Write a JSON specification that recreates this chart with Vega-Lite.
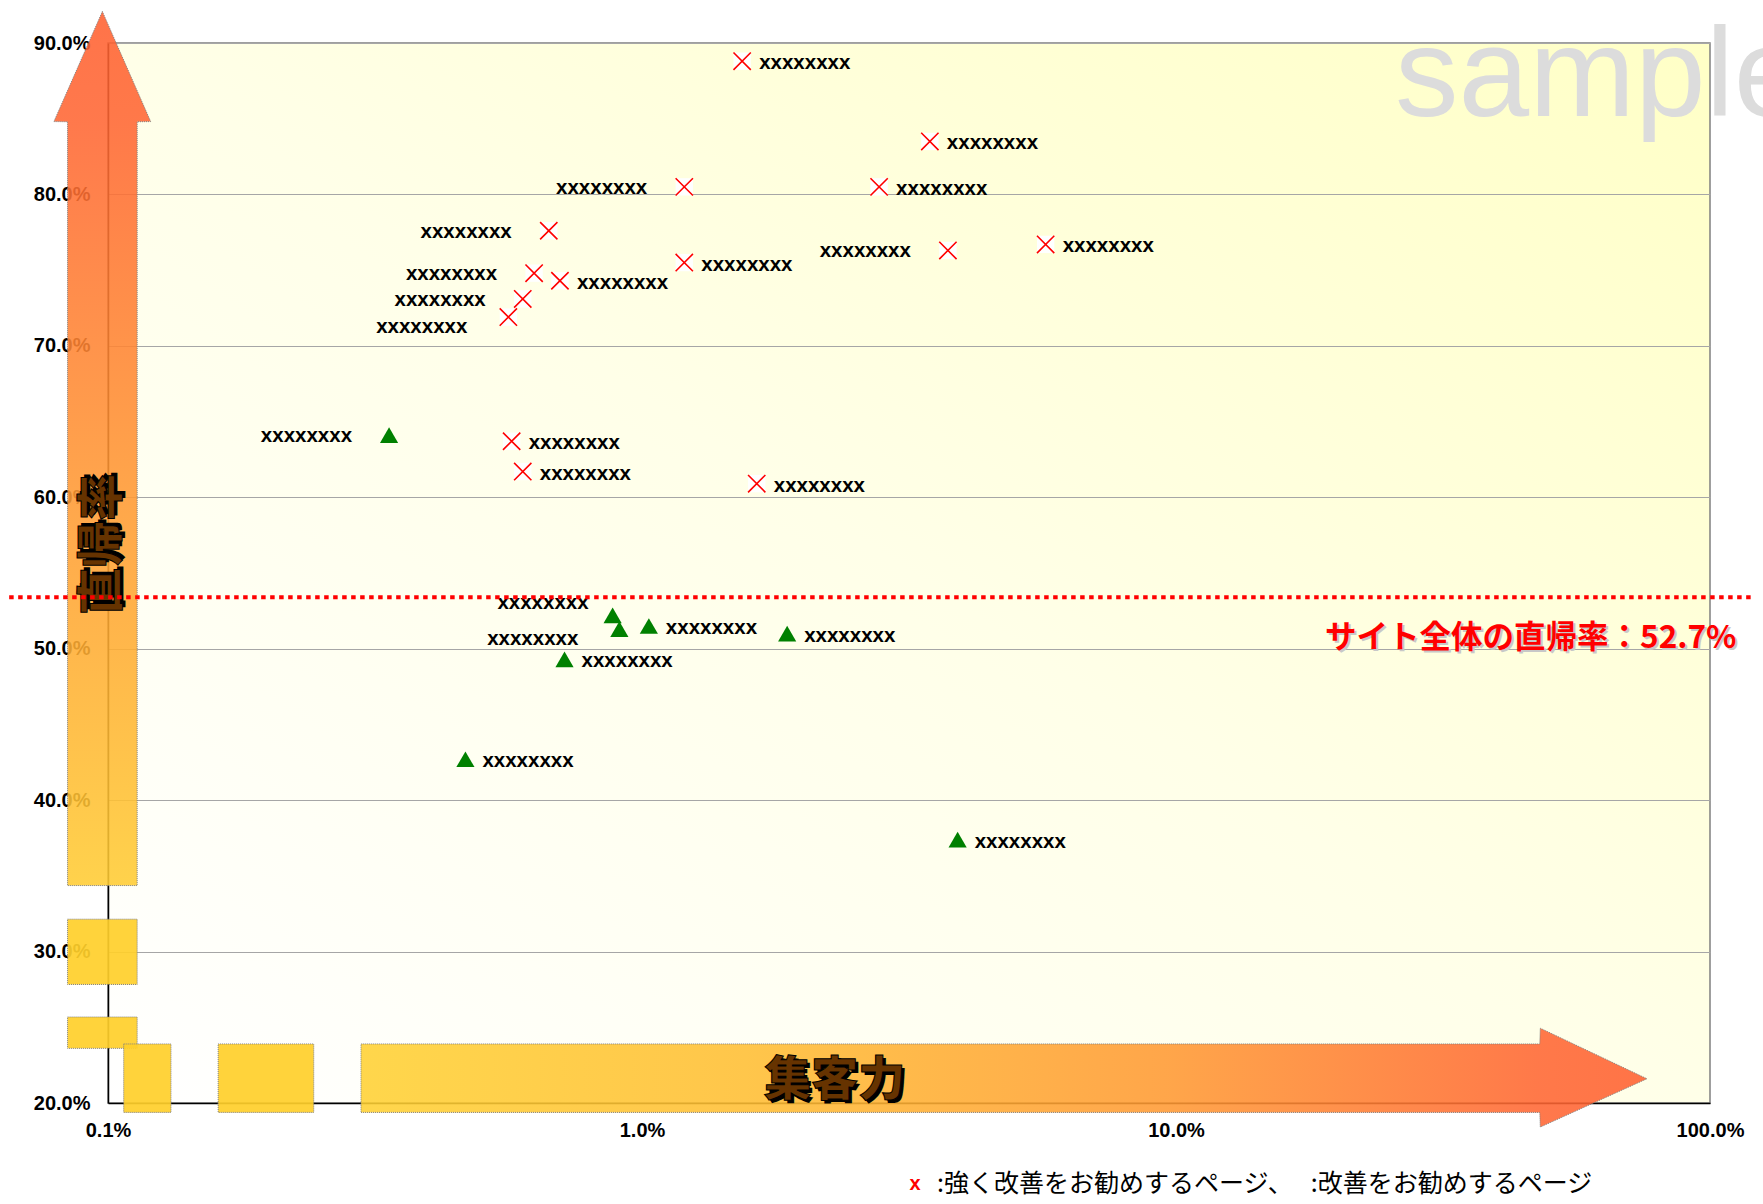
{
  "$schema": "https://vega.github.io/schema/vega-lite/v6.json",
  "width": 1602,
  "height": 1060,
  "autosize": "none",
  "padding": {"left": 108, "top": 43, "right": 53, "bottom": 101},
  "background": "white",
  "view": {
    "stroke": "#808080",
    "strokeWidth": 1.5,
    "fill": {"gradient": "linear", "x1": 0, "y1": 1, "x2": 1, "y2": 0, "stops": [{"offset": 0, "color": "#FFFFFF"}, {"offset": 0.5, "color": "#FFFFE8"}, {"offset": 1, "color": "#FFFFC6"}]}
  },
  "datasets": {
    "pts": [
      {"x": 1.54, "y": 88.8, "type": "s", "pos": "r", "label": "xxxxxxxx"},
      {"x": 3.46, "y": 83.5, "type": "s", "pos": "r", "label": "xxxxxxxx"},
      {"x": 1.20, "y": 80.5, "type": "s", "pos": "l", "label": "xxxxxxxx"},
      {"x": 2.78, "y": 80.5, "type": "s", "pos": "r", "label": "xxxxxxxx"},
      {"x": 0.669, "y": 77.6, "type": "s", "pos": "l", "label": "xxxxxxxx"},
      {"x": 0.628, "y": 74.8, "type": "s", "pos": "l", "label": "xxxxxxxx"},
      {"x": 0.702, "y": 74.3, "type": "s", "pos": "r", "label": "xxxxxxxx"},
      {"x": 0.598, "y": 73.1, "type": "s", "pos": "l", "label": "xxxxxxxx"},
      {"x": 0.562, "y": 71.9, "type": "s", "pos": "lb", "label": "xxxxxxxx"},
      {"x": 1.20, "y": 75.5, "type": "s", "pos": "r", "label": "xxxxxxxx"},
      {"x": 3.74, "y": 76.3, "type": "s", "pos": "l", "label": "xxxxxxxx"},
      {"x": 5.70, "y": 76.7, "type": "s", "pos": "r", "label": "xxxxxxxx"},
      {"x": 0.570, "y": 63.7, "type": "s", "pos": "r", "label": "xxxxxxxx"},
      {"x": 0.598, "y": 61.7, "type": "s", "pos": "r", "label": "xxxxxxxx"},
      {"x": 1.64, "y": 60.9, "type": "s", "pos": "r", "label": "xxxxxxxx"},
      {"x": 0.336, "y": 64.1, "type": "n", "pos": "l", "label": "xxxxxxxx"},
      {"x": 0.881, "y": 52.2, "type": "n", "pos": "la", "label": "xxxxxxxx"},
      {"x": 0.907, "y": 51.3, "type": "n", "pos": "lb", "label": "xxxxxxxx"},
      {"x": 1.03, "y": 51.5, "type": "n", "pos": "r", "label": "xxxxxxxx"},
      {"x": 1.87, "y": 51.0, "type": "n", "pos": "r", "label": "xxxxxxxx"},
      {"x": 0.716, "y": 49.3, "type": "n", "pos": "r", "label": "xxxxxxxx"},
      {"x": 0.467, "y": 42.7, "type": "n", "pos": "r", "label": "xxxxxxxx"},
      {"x": 3.90, "y": 37.4, "type": "n", "pos": "r", "label": "xxxxxxxx"}
    ],
    "arrowV": [
      {"y": 34.36, "x": 0.0840, "x2": 0.1134},
      {"y": 84.80, "x": 0.0840, "x2": 0.1134},
      {"y": 84.81, "x": 0.0792, "x2": 0.1202},
      {"y": 92.08, "x": 0.0976, "x2": 0.0976}
    ],
    "arrowH": [
      {"x": 0.2977, "y": 19.38, "y2": 23.90},
      {"x": 48.0, "y": 19.38, "y2": 23.90},
      {"x": 48.1, "y": 18.41, "y2": 24.94},
      {"x": 76.2, "y": 21.60, "y2": 21.60}
    ],
    "blocks": [
      {"x": 0.0840, "x2": 0.1134, "y": 27.83, "y2": 32.14},
      {"x": 0.0840, "x2": 0.1134, "y": 23.61, "y2": 25.68},
      {"x": 0.1070, "x2": 0.1312, "y": 19.38, "y2": 23.90},
      {"x": 0.1608, "x2": 0.2428, "y": 19.38, "y2": 23.90}
    ]
  },
  "encoding": {
    "x": {
      "field": "x", "type": "quantitative",
      "scale": {"type": "log", "domain": [0.1, 100], "nice": false},
      "axis": {"values": [0.1, 1, 10, 100], "labelExpr": "format(datum.value, '.1f') + '%'", "ticks": false, "labelPadding": 17, "grid": false, "title": null, "domainColor": "#000000", "domainWidth": 1.5, "labelFont": "Liberation Sans", "labelFontWeight": "bold", "labelFontSize": 20, "labelColor": "#000000", "labelFlush": false, "labelOverlap": false}
    },
    "y": {
      "field": "y", "type": "quantitative",
      "scale": {"domain": [20, 90], "nice": false, "zero": false},
      "axis": {"values": [20, 30, 40, 50, 60, 70, 80, 90], "labelExpr": "format(datum.value, '.1f') + '%'", "ticks": false, "labelPadding": 18, "grid": true, "gridColor": "#A6A6A6", "gridWidth": 1, "title": null, "domainColor": "#000000", "domainWidth": 1.5, "labelFont": "Liberation Sans", "labelFontWeight": "bold", "labelFontSize": 20, "labelColor": "#000000", "labelFlush": false, "labelOverlap": false}
    }
  },
  "layer": [
    {
      "data": {"values": [{"x": 25.72, "y": 85.16, "t": "sample"}]},
      "mark": {"type": "text", "clip": false, "align": "left", "baseline": "alphabetic", "font": "Liberation Sans", "fontSize": 127, "fill": "#DCDCDC"},
      "encoding": {"text": {"field": "t"}}
    },
    {
      "data": {"name": "pts"},
      "transform": [{"filter": "datum.type == 's'"}],
      "mark": {"type": "point", "shape": "square", "filled": true, "fill": "#FFFFFF", "opacity": 1, "size": 300, "strokeWidth": 0}
    },
    {
      "data": {"name": "pts"},
      "transform": [{"filter": "datum.type == 's'"}],
      "mark": {"type": "point", "shape": "M-1,-1L1,1M-1,1L1,-1", "filled": false, "stroke": "#FF0000", "strokeWidth": 1.6, "opacity": 1, "size": 300}
    },
    {
      "data": {"name": "pts"},
      "transform": [{"filter": "datum.type == 'n'"}],
      "mark": {"type": "point", "shape": "triangle-up", "filled": true, "fill": "#008000", "opacity": 1, "size": 330, "strokeWidth": 0}
    },
    {
      "data": {"name": "pts"},
      "transform": [{"filter": "datum.pos == 'r'"}],
      "mark": {"type": "text", "align": "left", "baseline": "middle", "dx": 17, "dy": 2, "font": "Liberation Sans", "fontWeight": "bold", "fontSize": 20.5, "fill": "#000000"},
      "encoding": {"text": {"field": "label"}}
    },
    {
      "data": {"name": "pts"},
      "transform": [{"filter": "datum.pos == 'l'"}],
      "mark": {"type": "text", "align": "right", "baseline": "middle", "dx": -37, "dy": 1, "font": "Liberation Sans", "fontWeight": "bold", "fontSize": 20.5, "fill": "#000000"},
      "encoding": {"text": {"field": "label"}}
    },
    {
      "data": {"name": "pts"},
      "transform": [{"filter": "datum.pos == 'lb'"}],
      "mark": {"type": "text", "align": "right", "baseline": "middle", "dx": -41, "dy": 10, "font": "Liberation Sans", "fontWeight": "bold", "fontSize": 20.5, "fill": "#000000"},
      "encoding": {"text": {"field": "label"}}
    },
    {
      "data": {"name": "pts"},
      "transform": [{"filter": "datum.pos == 'la'"}],
      "mark": {"type": "text", "align": "right", "baseline": "middle", "dx": -24, "dy": -12, "font": "Liberation Sans", "fontWeight": "bold", "fontSize": 20.5, "fill": "#000000"},
      "encoding": {"text": {"field": "label"}}
    },
    {
      "data": {"name": "arrowV"},
      "mark": {"type": "area", "orient": "horizontal", "clip": false, "fillOpacity": 0.88, "stroke": "#7F7F7F", "strokeWidth": 1, "strokeDash": [1, 1],
        "fill": {"gradient": "linear", "x1": 0, "y1": 1, "x2": 0, "y2": 0, "stops": [{"offset": 0, "color": "#FFCC33"}, {"offset": 0.45, "color": "#FF9933"}, {"offset": 0.874, "color": "#FF6633"}, {"offset": 1, "color": "#FF6030"}]}},
      "encoding": {"x2": {"field": "x2"}}
    },
    {
      "data": {"name": "arrowH"},
      "mark": {"type": "area", "orient": "vertical", "clip": false, "fillOpacity": 0.88, "stroke": "#7F7F7F", "strokeWidth": 1, "strokeDash": [1, 1],
        "fill": {"gradient": "linear", "x1": 0, "y1": 0, "x2": 1, "y2": 0, "stops": [{"offset": 0, "color": "#FFD133"}, {"offset": 0.3, "color": "#FFBE33"}, {"offset": 0.63, "color": "#FF9933"}, {"offset": 0.917, "color": "#FF6633"}, {"offset": 1, "color": "#FF6030"}]}},
      "encoding": {"y2": {"field": "y2"}}
    },
    {
      "data": {"name": "blocks"},
      "mark": {"type": "rect", "clip": false, "fill": "#FFCF2A", "fillOpacity": 0.92, "stroke": "#7F7F7F", "strokeWidth": 1, "strokeDash": [1, 1]},
      "encoding": {"x2": {"field": "x2"}, "y2": {"field": "y2"}}
    },
    {
      "data": {"values": [{"x": 0.0979, "y": 56.9, "t": "直帰率"}]},
      "mark": {"type": "text", "clip": false, "angle": 270, "align": "center", "baseline": "middle", "dx": 3, "dy": 3, "font": "Noto Sans CJK JP", "fontWeight": 900, "fontSize": 47, "fill": "#000000"},
      "encoding": {"text": {"field": "t"}}
    },
    {
      "data": {"values": [{"x": 0.0979, "y": 56.9, "t": "直帰率"}]},
      "mark": {"type": "text", "clip": false, "angle": 270, "align": "center", "baseline": "middle", "font": "Noto Sans CJK JP", "fontWeight": 900, "fontSize": 47, "fill": "#663300", "stroke": "#000000", "strokeWidth": 1},
      "encoding": {"text": {"field": "t"}}
    },
    {
      "data": {"values": [{"x": 2.296, "y": 21.45, "t": "集客力"}]},
      "mark": {"type": "text", "clip": false, "align": "center", "baseline": "middle", "dx": 3, "dy": 3, "font": "Noto Sans CJK JP", "fontWeight": 900, "fontSize": 47, "fill": "#000000"},
      "encoding": {"text": {"field": "t"}}
    },
    {
      "data": {"values": [{"x": 2.296, "y": 21.45, "t": "集客力"}]},
      "mark": {"type": "text", "clip": false, "align": "center", "baseline": "middle", "font": "Noto Sans CJK JP", "fontWeight": 900, "fontSize": 47, "fill": "#663300", "stroke": "#000000", "strokeWidth": 1},
      "encoding": {"text": {"field": "t"}}
    },
    {
      "data": {"values": [{"x": 19.02, "y": 50.65, "t": "サイト全体の直帰率：52.7%"}]},
      "mark": {"type": "text", "clip": false, "align": "left", "baseline": "middle", "dx": 2, "dy": 2, "font": "Noto Sans CJK JP", "fontWeight": "bold", "fontSize": 31.5, "fill": "#C8C8C8"},
      "encoding": {"text": {"field": "t"}}
    },
    {
      "data": {"values": [{"x": 19.02, "y": 50.65, "t": "サイト全体の直帰率：52.7%"}]},
      "mark": {"type": "text", "clip": false, "align": "left", "baseline": "middle", "font": "Noto Sans CJK JP", "fontWeight": "bold", "fontSize": 31.5, "fill": "#FF0000"},
      "encoding": {"text": {"field": "t"}}
    },
    {
      "data": {"values": [{"x": 0.0653, "x2": 120.8, "y": 53.4}]},
      "mark": {"type": "rule", "clip": false, "color": "#FF0000", "strokeWidth": 4, "strokeDash": [4.5, 4.5]},
      "encoding": {"x2": {"field": "x2"}}
    },
    {
      "data": {"values": [{"x": 3.246, "y": 14.68, "t": "x"}]},
      "mark": {"type": "text", "clip": false, "align": "center", "baseline": "middle", "font": "Liberation Sans", "fontWeight": "bold", "fontSize": 20, "fill": "#FF0000"},
      "encoding": {"text": {"field": "t"}}
    },
    {
      "data": {"values": [{"x": 3.569, "y": 14.68, "t": ":強く改善をお勧めするページ、　 :改善をお勧めするページ"}]},
      "mark": {"type": "text", "clip": false, "align": "left", "baseline": "middle", "font": "Noto Sans CJK JP", "fontSize": 25, "fill": "#000000"},
      "encoding": {"text": {"field": "t"}}
    }
  ]
}
